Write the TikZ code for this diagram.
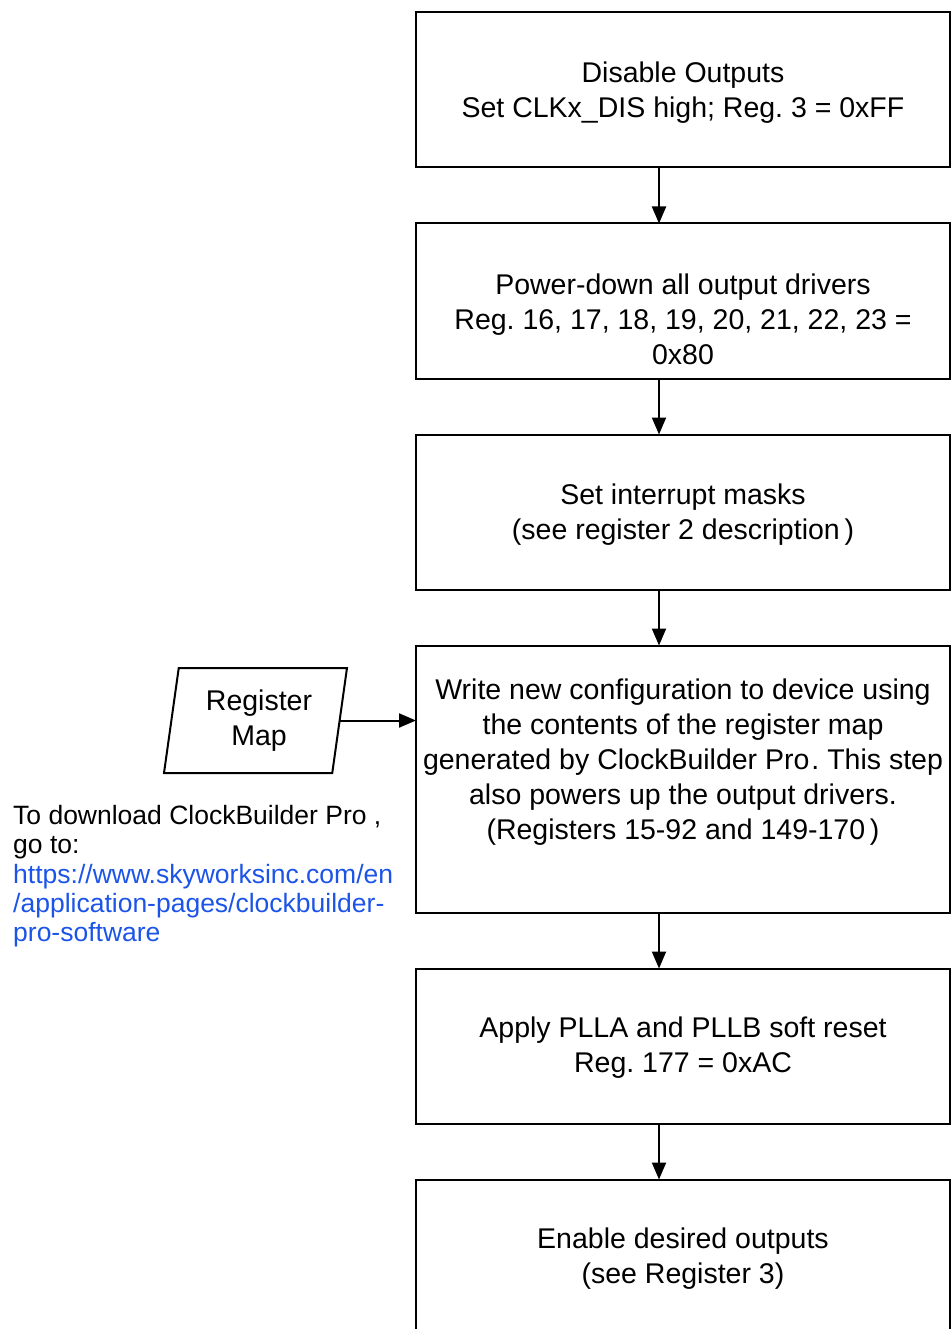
\documentclass[tikz,border=0pt]{standalone}
\usepackage{fontspec}
\setmainfont{Liberation Sans}
\usepackage{tikz}
\usetikzlibrary{shapes.geometric}
\usetikzlibrary{arrows.meta}
\usetikzlibrary{positioning}
\usetikzlibrary{calc}
\definecolor{linkblue}{RGB}{28,84,232}
\frenchspacing

\begin{document}
\begin{tikzpicture}[x=1pt, y=-1pt, node distance=56pt,
		stepbox/.style={draw, line width=2pt, outer sep=0pt, minimum width=534pt, minimum height=155pt, align=center, font=\fontsize{28.5}{35}\selectfont},
		steptext/.style={align=center, font=\fontsize{28.5}{35}\selectfont},
		regbox/.style={draw, line width=2pt, outer sep=0pt, inner sep=0pt, trapezium, trapezium left angle=80, trapezium right angle=100, trapezium stretches=true, minimum width=183pt, minimum height=105pt, align=center, font=\fontsize{28.5}{35}\selectfont},
		flow/.style={line width=2pt, -{Triangle[length=17pt,width=14pt]}}]
			\useasboundingbox (0,0) rectangle (951,1329);
			\coordinate (ax) at (659,0);
			\node[stepbox] (b1) at (683,90) {};
			\node[steptext] (t1) at ($(b1.center)+(0,3)$) {Disable Outputs\\Set CLKx\_DIS high; Reg. 3 = 0xFF};
			\node[stepbox, below=of b1] (b2) {};
			\node[steptext] (t2) at ($(b2.center)+(0,18)$) {Power-down all output drivers\\Reg. 16, 17, 18, 19, 20, 21, 22, 23 =\\0x80};
			\node[stepbox, below=of b2] (b3) {};
			\node[steptext] (t3) at ($(b3.center)+(0,3)$) {Set interrupt masks\\(see register 2 description\,)};
			\node[stepbox, below=of b3, minimum height=267pt] (b4) {};
			\node[steptext] (t4) at ($(b4.center)+(0,-17)$) {Write new configuration to device using\\the contents of the register map\\generated by ClockBuilder Pro\kern2pt. This step\\also powers up the output drivers.\\(Registers 15-92 and 149-170\,)};
			\node[stepbox, below=of b4] (b5) {};
			\node[steptext] (t5) at ($(b5.center)+(0,2)$) {Apply PLLA and PLLB soft reset\\Reg. 177 = 0xAC};
			\node[stepbox, below=of b5] (b6) {};
			\node[steptext] (t6) at ($(b6.center)+(0,2)$) {Enable desired outputs\\(see Register 3)};
			\node[regbox] (reg) at (255.5,720.5) {\hspace*{7pt}Register\\\hspace*{7pt}Map};
			\node[anchor=north west, inner sep=0pt, align=left, font=\fontsize{26.5}{29.3}\selectfont] (dl) at (13,805) {To download ClockBuilder Pro ,\\go to:\\\textcolor{linkblue}{https://www.skyworksinc.com/en}\\\textcolor{linkblue}{/application-pages/clockbuilder-}\\\textcolor{linkblue}{pro-software}};
			\draw[flow] (b1.south -| ax) -- (b2.north -| ax);
			\draw[flow] (b2.south -| ax) -- (b3.north -| ax);
			\draw[flow] (b3.south -| ax) -- (b4.north -| ax);
			\draw[flow] (b4.south -| ax) -- (b5.north -| ax);
			\draw[flow] (b5.south -| ax) -- (b6.north -| ax);
			\draw[flow] (reg.east) -- (reg.east -| b4.west);
		\end{tikzpicture}
\end{document}
